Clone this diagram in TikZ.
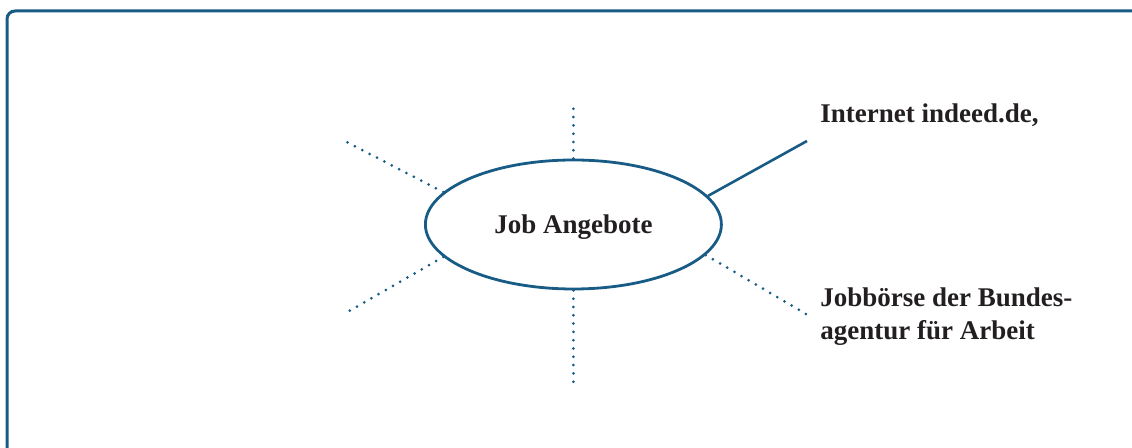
\documentclass[tikz,border=0pt]{standalone}
\usepackage{fontspec}
\setmainfont{Liberation Serif}
\usepackage{tikz}
\usetikzlibrary{
  positioning,
  shapes.geometric
}
\definecolor{petrol}{RGB}{24,92,134}
\definecolor{ink}{RGB}{35,31,32}
\tikzset{
  dotspoke/.style={
    draw=petrol,
    line width=1.5pt,
    line cap=round,
    dash pattern=on 0pt off 4.15pt
  },
  solidspoke/.style={
    draw=petrol,
    line width=1.3pt
  }
}

\begin{document}
\begin{tikzpicture}[
  x=0.5pt,y=-0.5pt,
  frame/.style={
    draw=petrol,
    line width=1.5pt,
    rounded corners=4pt
  },
  hub/.style={
    ellipse,
    draw=petrol,
    line width=1.4pt,
    minimum width=148pt,
    minimum height=64.5pt,
    inner sep=0pt,
    text depth=0pt,
    text=ink,
    font=\fontsize{13.5}{16}\selectfont\bfseries
  },
  source/.style={
    anchor=base west,
    inner sep=0pt,
    align=left,
    text=ink,
    font=\fontsize{13.5}{16.5}\selectfont\bfseries
  }
]

  \useasboundingbox (0,0) rectangle (1132,448);
  \draw[frame] (7,11) rectangle (1180,500);

  \node[hub] (job) at (573.4,224.5) {Job Angebote};

  \node[source] (inet) at (820,123) {Internet indeed.de,};
  \node[source] (agentur) at (820,340) {Jobbörse der Bundes-\\agentur für Arbeit};

  % free ends of the spokes
  \coordinate (topEnd) at (573.4,101);
  \coordinate (botEnd) at (573.4,383);
  \coordinate (ulEnd) at (342.7,140);
  \coordinate (llEnd) at (344,314);
  \coordinate (lrEnd) at (806,314);
  \coordinate (urEnd) at (807,141);

  \draw[solidspoke] (job.12.7) -- (urEnd);
  \draw[dotspoke] (job.north) -- (topEnd);
  \draw[dotspoke] (job.south) -- (botEnd);
  \draw[dotspoke] (job.166.6) -- (ulEnd);
  \draw[dotspoke] (job.194) -- (llEnd);
  \draw[dotspoke] (job.-13.6) -- (lrEnd);

\end{tikzpicture}
\end{document}
